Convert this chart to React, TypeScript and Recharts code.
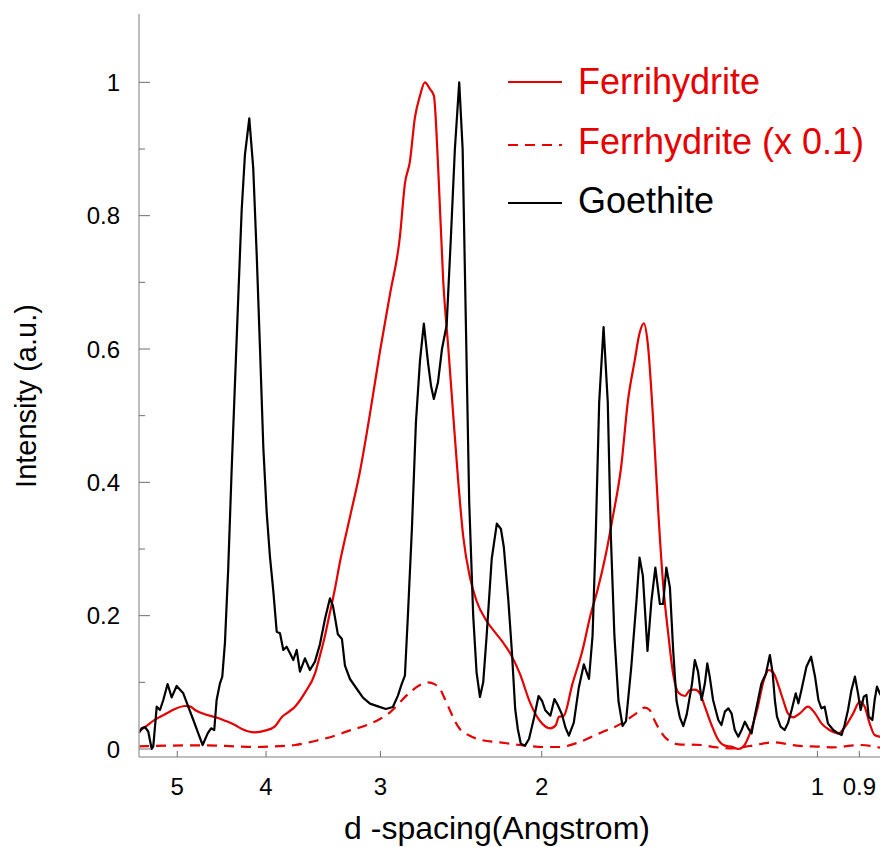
import React from 'react';
import { LineChart, Line, XAxis, YAxis, Legend, Label } from 'recharts';

// ---- data (d-spacing in Angstrom, intensity a.u.) ----
const xTicks = [5, 4, 3, 2, 1, 0.9];
const yTicks = [0, 0.1, 0.2, 0.3, 0.4, 0.5, 0.6, 0.7, 0.8, 0.9, 1.0];
const yLabelTicks = [0, 0.2, 0.4, 0.6, 0.8, 1];
const xDomain = [0.848, 5.505];
const yDomain = [-0.012, 1.1025];
const seriesNames = ['Ferrihydrite', 'Ferrhydrite (x 0.1)', 'Goethite'];
const xTitle = 'd -spacing(Angstrom)';
const yTitle = 'Intensity (a.u.)';

const ferrihydrite: [number, number][] = [
  [5.505, 0.027], [5.423, 0.033], [5.288, 0.044], [5.157, 0.052], [5.029, 0.06], [4.904, 0.0645],
  [4.843, 0.064], [4.782, 0.0585], [4.664, 0.052], [4.548, 0.048], [4.435, 0.0425], [4.325, 0.036],
  [4.25, 0.03], [4.113, 0.025], [4.01, 0.0275], [3.911, 0.034], [3.843, 0.048], [3.785, 0.055],
  [3.719, 0.0635], [3.627, 0.0845], [3.537, 0.113], [3.493, 0.14], [3.449, 0.17], [3.406, 0.205],
  [3.364, 0.24], [3.322, 0.28], [3.239, 0.348], [3.159, 0.416], [3.08, 0.503], [3.004, 0.596],
  [2.929, 0.682], [2.857, 0.768], [2.821, 0.848], [2.786, 0.881], [2.751, 0.947], [2.716, 0.98],
  [2.683, 1.0], [2.649, 0.99], [2.623, 0.98], [2.594, 0.868], [2.562, 0.702], [2.53, 0.603],
  [2.499, 0.503], [2.468, 0.404], [2.436, 0.318], [2.396, 0.258], [2.356, 0.222], [2.297, 0.192],
  [2.24, 0.172], [2.205, 0.16], [2.166, 0.144], [2.113, 0.113], [2.06, 0.07], [2.009, 0.042],
  [1.957, 0.031], [1.93, 0.036], [1.916, 0.048], [1.892, 0.05], [1.852, 0.097], [1.806, 0.147],
  [1.768, 0.2025], [1.739, 0.2375], [1.702, 0.2925], [1.673, 0.3475], [1.638, 0.423], [1.61, 0.523],
  [1.583, 0.583], [1.564, 0.6235], [1.547, 0.6385], [1.532, 0.6085], [1.512, 0.498], [1.493, 0.3625],
  [1.474, 0.2475], [1.455, 0.1725], [1.437, 0.112], [1.418, 0.0845], [1.395, 0.0795], [1.378, 0.0885],
  [1.361, 0.089], [1.344, 0.0835], [1.327, 0.0635], [1.305, 0.036], [1.283, 0.0135], [1.262, 0.005],
  [1.241, 0.0035], [1.22, 0.0], [1.205, 0.0035], [1.185, 0.0235], [1.164, 0.0585], [1.144, 0.1035],
  [1.13, 0.1185], [1.116, 0.1135], [1.102, 0.0935], [1.09, 0.0735], [1.077, 0.0535], [1.063, 0.0475],
  [1.045, 0.0535], [1.024, 0.0635], [1.006, 0.0535], [0.99, 0.0385], [0.97, 0.0285], [0.949, 0.0235],
  [0.93, 0.036], [0.914, 0.0535], [0.899, 0.071], [0.888, 0.0635], [0.877, 0.0385], [0.866, 0.021],
  [0.855, 0.0185], [0.848, 0.018],
];

const ferrihydriteScaled: [number, number][] = [
  [5.505, 0.004], [5.118, 0.005], [4.691, 0.0055], [4.325, 0.004], [4.113, 0.003], [3.911, 0.004],
  [3.719, 0.006], [3.537, 0.012], [3.364, 0.02], [3.239, 0.028], [3.103, 0.036], [3.004, 0.045],
  [2.929, 0.055], [2.857, 0.07], [2.786, 0.085], [2.716, 0.096], [2.662, 0.1], [2.616, 0.097],
  [2.583, 0.09], [2.551, 0.075], [2.519, 0.058], [2.488, 0.042], [2.457, 0.03], [2.396, 0.02],
  [2.336, 0.014], [2.222, 0.01], [2.113, 0.006], [1.984, 0.003], [1.911, 0.003], [1.831, 0.009],
  [1.724, 0.0245], [1.638, 0.038], [1.582, 0.052], [1.543, 0.062], [1.524, 0.058], [1.505, 0.042],
  [1.468, 0.018], [1.418, 0.007], [1.337, 0.006], [1.311, 0.004], [1.237, 0.001], [1.185, 0.0045],
  [1.117, 0.01], [1.053, 0.005], [0.994, 0.0035], [0.961, 0.0025], [0.899, 0.006], [0.848, 0.001],
];

const goethite: [number, number][] = [
  [5.505, 0.024], [5.468, 0.031], [5.423, 0.033], [5.378, 0.026], [5.332, 0.0], [5.311, 0.004],
  [5.265, 0.0635], [5.222, 0.0585], [5.179, 0.0735], [5.123, 0.0975], [5.071, 0.0775], [5.008, 0.0945],
  [4.925, 0.0835], [4.864, 0.0635], [4.802, 0.0435], [4.743, 0.0235], [4.691, 0.006], [4.632, 0.0235],
  [4.593, 0.031], [4.556, 0.0285], [4.529, 0.0735], [4.491, 0.0985], [4.465, 0.1085], [4.435, 0.16],
  [4.399, 0.27], [4.361, 0.419], [4.325, 0.548], [4.289, 0.678], [4.253, 0.807], [4.218, 0.891],
  [4.172, 0.946], [4.131, 0.872], [4.095, 0.742], [4.061, 0.6], [4.027, 0.451], [3.993, 0.354],
  [3.961, 0.289], [3.928, 0.238], [3.894, 0.176], [3.862, 0.1735], [3.83, 0.1485], [3.798, 0.1535],
  [3.766, 0.1435], [3.735, 0.1335], [3.703, 0.1485], [3.673, 0.116], [3.627, 0.136], [3.582, 0.1185],
  [3.537, 0.131], [3.493, 0.157], [3.449, 0.195], [3.406, 0.226], [3.381, 0.215], [3.364, 0.198],
  [3.339, 0.172], [3.305, 0.165], [3.28, 0.125], [3.239, 0.105], [3.183, 0.09], [3.135, 0.077],
  [3.08, 0.068], [3.019, 0.064], [2.959, 0.06], [2.908, 0.063], [2.871, 0.08], [2.843, 0.098],
  [2.821, 0.11], [2.8, 0.2], [2.772, 0.33], [2.744, 0.49], [2.716, 0.583], [2.69, 0.638],
  [2.662, 0.58], [2.642, 0.545], [2.623, 0.525], [2.596, 0.55], [2.57, 0.6], [2.54, 0.636],
  [2.513, 0.768], [2.488, 0.9], [2.461, 1.0], [2.44, 0.9], [2.42, 0.636], [2.4, 0.37],
  [2.376, 0.2], [2.356, 0.115], [2.336, 0.078], [2.317, 0.1], [2.297, 0.17], [2.268, 0.285],
  [2.239, 0.338], [2.216, 0.33], [2.2, 0.303], [2.175, 0.2225], [2.156, 0.147], [2.138, 0.06],
  [2.124, 0.03], [2.108, 0.008], [2.086, 0.005], [2.065, 0.015], [2.039, 0.047], [2.016, 0.0795],
  [1.998, 0.072], [1.982, 0.058], [1.957, 0.05], [1.937, 0.075], [1.921, 0.066], [1.901, 0.052],
  [1.884, 0.032], [1.868, 0.02], [1.845, 0.0395], [1.822, 0.092], [1.799, 0.127], [1.776, 0.105],
  [1.76, 0.17], [1.746, 0.32], [1.731, 0.52], [1.712, 0.633], [1.694, 0.52], [1.681, 0.32],
  [1.666, 0.17], [1.649, 0.072], [1.632, 0.0345], [1.618, 0.042], [1.597, 0.122], [1.576, 0.2225],
  [1.564, 0.287], [1.551, 0.26], [1.533, 0.147], [1.518, 0.222], [1.503, 0.272], [1.486, 0.2175],
  [1.474, 0.2175], [1.462, 0.272], [1.449, 0.2425], [1.437, 0.147], [1.425, 0.072], [1.413, 0.047],
  [1.401, 0.0345], [1.389, 0.052], [1.371, 0.097], [1.361, 0.1335], [1.35, 0.116], [1.338, 0.0735],
  [1.327, 0.0985], [1.319, 0.1285], [1.311, 0.1085], [1.3, 0.0735], [1.283, 0.0435], [1.273, 0.036],
  [1.262, 0.056], [1.251, 0.061], [1.241, 0.0535], [1.231, 0.0285], [1.22, 0.0185], [1.21, 0.0285],
  [1.2, 0.041], [1.19, 0.031], [1.18, 0.0235], [1.171, 0.0485], [1.161, 0.0735], [1.151, 0.0985],
  [1.138, 0.1135], [1.127, 0.141], [1.119, 0.1135], [1.113, 0.0735], [1.107, 0.0485], [1.097, 0.0335],
  [1.086, 0.0285], [1.077, 0.0385], [1.067, 0.0585], [1.056, 0.0835], [1.049, 0.0685], [1.041, 0.0885],
  [1.028, 0.1235], [1.016, 0.1385], [1.006, 0.1085], [0.9975, 0.0735], [0.99, 0.061], [0.982, 0.0635],
  [0.974, 0.0385], [0.961, 0.0285], [0.949, 0.0235], [0.941, 0.021], [0.934, 0.036], [0.926, 0.0585],
  [0.918, 0.0885], [0.91, 0.1085], [0.903, 0.0835], [0.897, 0.0585], [0.89, 0.0785], [0.884, 0.081],
  [0.879, 0.0485], [0.871, 0.0435], [0.866, 0.0735], [0.861, 0.0935], [0.855, 0.0835], [0.848, 0.075],
];

// ---- styling ----
const FONT = "'Liberation Sans', Arial, Helvetica, sans-serif";
const RED = '#e60000';
const BLACK = '#000000';
const seriesColors = [RED, RED, BLACK];
const seriesDash = [undefined, '10 7', undefined];
const seriesCurve: ('monotone' | 'linear')[] = ['monotone', 'monotone', 'linear'];
const AXIS = '#a8a8a8';
const TICK = '#6e6e6e';

const toRows = (pts: [number, number][]) => pts.map(([d, v]) => ({ d, v }));

const isLabeled = (v: number) => yLabelTicks.some((t) => Math.abs(t - v) < 1e-9);

const LeftTick = (props: any) => {
  const { x, y, payload } = props;
  const major = isLabeled(payload.value);
  return (
    <g>
      <line x1={x} x2={x + (major ? 11 : 6)} y1={y} y2={y} stroke={TICK} strokeWidth={1} />
      {major && (
        <text x={x - 19} y={y} dy="0.36em" textAnchor="end" fontSize={24} fontFamily={FONT} fill="#000">
          {String(payload.value)}
        </text>
      )}
    </g>
  );
};

const RightTick = (props: any) => {
  const { x, y, payload } = props;
  const major = isLabeled(payload.value);
  return <line x1={x} x2={x - (major ? 11 : 6)} y1={y} y2={y} stroke={TICK} strokeWidth={1} />;
};

const BottomTick = (props: any) => {
  const { x, y, payload } = props;
  return (
    <g>
      <line x1={x} x2={x} y1={y} y2={y - 6} stroke={TICK} strokeWidth={1} />
      <text x={x} y={y + 38} textAnchor="middle" fontSize={24} fontFamily={FONT} fill="#000">
        {String(payload.value)}
      </text>
    </g>
  );
};

const TopTick = (props: any) => {
  const { x, y } = props;
  return <line x1={x} x2={x} y1={y} y2={y + 6} stroke={TICK} strokeWidth={1} />;
};

const renderLegend = () => {
  const lineY = [32, 95, 153];
  const textY = [44, 104, 163];
  return (
    <svg width={380} height={175} style={{ display: 'block' }}>
      {seriesNames.map((n, i) => (
        <g key={n}>
          <line x1={8} x2={62} y1={lineY[i]} y2={lineY[i]} stroke={seriesColors[i]} strokeWidth={2.2}
            strokeDasharray={seriesDash[i]} />
          <text x={78} y={textY[i]} fontSize={36} fontFamily={FONT} fill={seriesColors[i]}>{n}</text>
        </g>
      ))}
    </svg>
  );
};

export default function App() {
  const rows = [toRows(ferrihydrite), toRows(ferrihydriteScaled), toRows(goethite)];
  const order = [1, 0, 2];
  return (
    <div style={{ position: 'absolute', left: 0, top: 0, width: 880, height: 847, overflow: 'hidden', background: '#fff' }}>
      <LineChart width={890} height={847} margin={{ top: 14, right: 7, bottom: 0, left: 0 }}>
        <XAxis
          dataKey="d"
          type="number"
          scale="log"
          domain={xDomain}
          reversed
          allowDataOverflow
          ticks={xTicks}
          interval={0}
          height={90}
          tickSize={0}
          tickMargin={0}
          tickLine={false}
          axisLine={{ stroke: AXIS, strokeWidth: 1.5 }}
          tick={<BottomTick />}
        >
          <Label
            content={() => (
              <text x={497} y={839} textAnchor="middle" fontSize={32} fontFamily={FONT} fill="#000">{xTitle}</text>
            )}
          />
        </XAxis>
        <XAxis
          xAxisId="top"
          orientation="top"
          dataKey="d"
          type="number"
          scale="log"
          domain={xDomain}
          reversed
          allowDataOverflow
          ticks={xTicks}
          interval={0}
          height={0}
          tickSize={0}
          tickMargin={0}
          tickLine={false}
          axisLine={{ stroke: '#c4c4c4', strokeWidth: 1.5 }}
          tick={<TopTick />}
        />
        <YAxis
          type="number"
          domain={yDomain}
          allowDataOverflow
          ticks={yTicks}
          interval={0}
          width={139}
          tickSize={0}
          tickMargin={0}
          tickLine={false}
          axisLine={{ stroke: AXIS, strokeWidth: 1.5 }}
          tick={<LeftTick />}
        >
          <Label
            content={() => (
              <text x={36} y={396} transform="rotate(-90, 36, 396)" textAnchor="middle" fontSize={29}
                fontFamily={FONT} fill="#000">{yTitle}</text>
            )}
          />
        </YAxis>
        <YAxis
          yAxisId="right"
          orientation="right"
          type="number"
          domain={yDomain}
          allowDataOverflow
          ticks={yTicks}
          interval={0}
          width={0}
          tickSize={0}
          tickMargin={0}
          tickLine={false}
          axisLine={{ stroke: AXIS, strokeWidth: 1.5 }}
          tick={<RightTick />}
        />
        <Legend
          layout="vertical"
          align="center"
          verticalAlign="middle"
          content={renderLegend}
          wrapperStyle={{ position: 'absolute', left: 500, top: 50, width: 380, height: 175 }}
        />
        {order.map((i) => (
          <Line
            key={seriesNames[i]}
            name={seriesNames[i]}
            data={rows[i]}
            dataKey="v"
            type={seriesCurve[i]}
            stroke={seriesColors[i]}
            strokeWidth={2.2}
            strokeDasharray={seriesDash[i]}
            strokeLinejoin="round"
            dot={false}
            activeDot={false}
            isAnimationActive={false}
          />
        ))}
      </LineChart>
    </div>
  );
}
